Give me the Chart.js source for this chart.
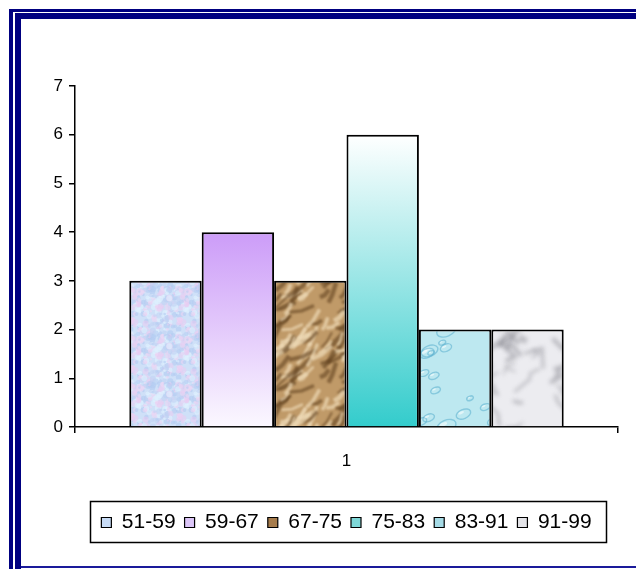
<!DOCTYPE html>
<html>
<head>
<meta charset="utf-8">
<script src="https://cdn.jsdelivr.net/npm/chart.js@4/dist/chart.umd.min.js"></script>
<style>
  html, body { margin: 0; padding: 0; background: #fff; }
  #wrap { position: relative; width: 636px; height: 569px; overflow: hidden; background: #fff; }
  #wrap canvas { position: absolute; left: 0; top: 0; }
  .rule { position: absolute; background: #000080; }
</style>
</head>
<body>
<div id="wrap">
  <canvas id="chart" width="636" height="569"></canvas>
  <div class="rule" style="left:9px;top:9px;width:627px;height:3px;"></div>
  <div class="rule" style="left:9px;top:9px;width:4px;height:560px;"></div>
  <div class="rule" style="left:15px;top:13px;width:621px;height:6px;"></div>
  <div class="rule" style="left:15px;top:13px;width:6px;height:556px;"></div>
  <div class="rule" style="left:21px;top:566px;width:615px;height:2px;background:#1a1a9a;"></div>
</div>
<script>
// Score bands and how many fall into each
const categories = ['1'];
const bands = ['51-59', '59-67', '67-75', '75-83', '83-91', '91-99'];
const counts = [3, 4, 3, 6, 2, 2];
const yTicks = [0, 1, 2, 3, 4, 5, 6, 7];

// Deterministic hash used to scatter texture speckles
function hash(n) {
  const s = Math.sin(n * 127.1 + 311.7) * 43758.5453;
  return s - Math.floor(s);
}

// Builds a seamless tile: every stroke is repeated at the wrapped offsets
function makeTile(w, h, base, blur, paint) {
  const c = document.createElement('canvas');
  c.width = w; c.height = h;
  const g = c.getContext('2d');
  g.fillStyle = base; g.fillRect(0, 0, w, h);
  if (blur) g.filter = 'blur(' + blur + 'px)';
  for (const dx of [-w, 0, w]) {
    for (const dy of [-h, 0, h]) {
      g.save(); g.translate(dx, dy); paint(g, w, h); g.restore();
    }
  }
  g.filter = 'none';
  return c;
}

// Soft blue/pink mottled tile
const mottle = makeTile(48, 48, '#cfe0f8', 0.6, (g, w, h) => {
  const cols = ['#e8cdf2', '#b2ccf2', '#e0f2ff', '#c2d2f4', '#ecd6f4'];
  for (let i = 0; i < 240; i++) {
    g.fillStyle = cols[i % cols.length];
    g.globalAlpha = 0.6;
    const x = hash(i) * w, y = hash(i + 500) * h, r = 1 + hash(i + 900) * 2.4;
    g.beginPath(); g.arc(x, y, r, 0, Math.PI * 2); g.fill();
  }
  g.globalAlpha = 1;
});

// Crumpled brown paper tile
const paper = makeTile(72, 80, '#c09a68', 1.2, (g, w, h) => {
  for (let i = 0; i < 55; i++) {
    const x = hash(i + 40) * w, y = hash(i + 140) * h;
    const len = 10 + hash(i + 240) * 20;
    const ang = -0.75 + (hash(i + 340) - 0.5) * 1.0;
    g.strokeStyle = i % 2 ? 'rgba(98,66,32,0.6)' : 'rgba(238,218,182,0.7)';
    g.lineWidth = 2 + hash(i + 440) * 3;
    g.beginPath();
    g.moveTo(x, y);
    g.lineTo(x + Math.cos(ang) * len * 0.5, y + Math.sin(ang) * len * 0.5 + 2);
    g.lineTo(x + Math.cos(ang) * len, y + Math.sin(ang) * len);
    g.stroke();
  }
});

// Pale aqua water-drop tile
const water = makeTile(72, 96, '#bde8f0', 0.4, (g, w, h) => {
  for (let i = 0; i < 14; i++) {
    const x = hash(i + 700) * w, y = hash(i + 800) * h;
    const rx = 3 + hash(i + 900) * 9, ry = rx * 0.6;
    g.strokeStyle = 'rgba(90,175,205,0.55)'; g.lineWidth = 1.4;
    g.beginPath(); g.ellipse(x, y, rx, ry, -0.4, 0, Math.PI * 2); g.stroke();
    g.fillStyle = 'rgba(255,255,255,0.55)';
    g.beginPath(); g.ellipse(x - rx * 0.3, y - ry * 0.3, rx * 0.4, ry * 0.3, -0.4, 0, Math.PI * 2); g.fill();
  }
});

// Grey-white marble tile
const marble = makeTile(72, 96, '#ececf0', 2, (g, w, h) => {
  for (let i = 0; i < 12; i++) {
    let x = hash(i + 1000) * w, y = hash(i + 1100) * h;
    g.strokeStyle = 'rgba(130,130,138,0.5)';
    g.lineWidth = 1.5 + hash(i + 1200) * 2.5;
    g.beginPath(); g.moveTo(x, y);
    for (let k = 0; k < 4; k++) {
      x += (hash(i * 7 + k + 1300) - 0.5) * 24;
      y += (hash(i * 7 + k + 1400) - 0.5) * 24;
      g.lineTo(x, y);
    }
    g.stroke();
  }
});

const canvas = document.getElementById('chart');
const ctx2d = canvas.getContext('2d');

function verticalGradient(context, topColor, bottomColor) {
  const chart = context.chart;
  const y = chart.scales.y;
  if (!y || context.raw === undefined) return topColor;
  const yTop = y.getPixelForValue(context.raw);
  const yBot = y.getPixelForValue(0);
  const grad = chart.ctx.createLinearGradient(0, yTop, 0, yBot);
  grad.addColorStop(0, topColor);
  grad.addColorStop(1, bottomColor);
  return grad;
}

const fills = [
  ctx2d.createPattern(mottle, 'repeat'),
  (c) => verticalGradient(c, '#cc9cf8', '#fbf8ff'),
  ctx2d.createPattern(paper, 'repeat'),
  (c) => verticalGradient(c, '#ffffff', '#33cccc'),
  ctx2d.createPattern(water, 'repeat'),
  ctx2d.createPattern(marble, 'repeat')
];
const swatches = ['#c8dcf6', '#dcc6f8', '#a67c4c', '#7fd8d8', '#a6dbe6', '#e4e4e8'];

const datasets = bands.map((label, i) => ({
  label,
  data: [counts[i]],
  backgroundColor: fills[i],
  borderColor: '#000',
  borderWidth: 2,
  categoryPercentage: 0.8,
  barPercentage: 1.0
}));

// Frame drawn around the legend entries
const legendFrame = {
  id: 'legendFrame',
  afterDraw(chart) {
    const lg = chart.legend;
    if (!lg || !lg.legendHitBoxes || !lg.legendHitBoxes.length) return;
    const boxes = lg.legendHitBoxes;
    const left = Math.min(...boxes.map(b => b.left)) - 11;
    const right = Math.max(...boxes.map(b => b.left + b.width)) + 15;
    const top = Math.min(...boxes.map(b => b.top)) - 11;
    const bottom = Math.max(...boxes.map(b => b.top + b.height)) + 9;
    const g = chart.ctx;
    g.save();
    g.strokeStyle = '#000';
    g.lineWidth = 1.5;
    g.strokeRect(Math.round(left) + 0.5, Math.round(top) + 0.5, Math.round(right - left), Math.round(bottom - top));
    g.restore();
  }
};

Chart.defaults.font.family = '"Liberation Sans", Arial, sans-serif';
Chart.defaults.color = '#000';

new Chart(canvas, {
  type: 'bar',
  data: { labels: categories, datasets },
  plugins: [legendFrame],
  options: {
    responsive: false,
    animation: false,
    layout: { padding: { top: 86, right: 18, left: 0, bottom: 26 } },
    scales: {
      x: {
        grid: { display: true, drawOnChartArea: false, offset: true, tickLength: 6, color: '#000', lineWidth: 1.5 },
        border: { display: true, color: '#000', width: 1.5 },
        ticks: { font: { size: 17 }, padding: 18, color: '#000' },
        afterFit(s) { s.height = 76; }
      },
      y: {
        min: 0, max: 7,
        afterBuildTicks(s) { s.ticks = yTicks.map(v => ({ value: v })); },
        grid: { display: true, drawOnChartArea: false, tickLength: 6, color: '#000', lineWidth: 1.5 },
        border: { display: true, color: '#000', width: 1.5 },
        ticks: { font: { size: 17 }, padding: 6, color: '#000' },
        afterFit(s) { s.width = 75; }
      }
    },
    plugins: {
      legend: {
        position: 'bottom',
        fullSize: false,
        labels: {
          font: { size: 21 },
          boxWidth: 10,
          boxHeight: 10,
          padding: 9,
          color: '#000',
          generateLabels(chart) {
            return chart.data.datasets.map((ds, i) => ({
              text: ds.label,
              fillStyle: swatches[i],
              strokeStyle: '#000',
              lineWidth: 1.2,
              hidden: false,
              datasetIndex: i
            }));
          }
        }
      },
      tooltip: { enabled: false }
    }
  }
});
</script>
</body>
</html>
